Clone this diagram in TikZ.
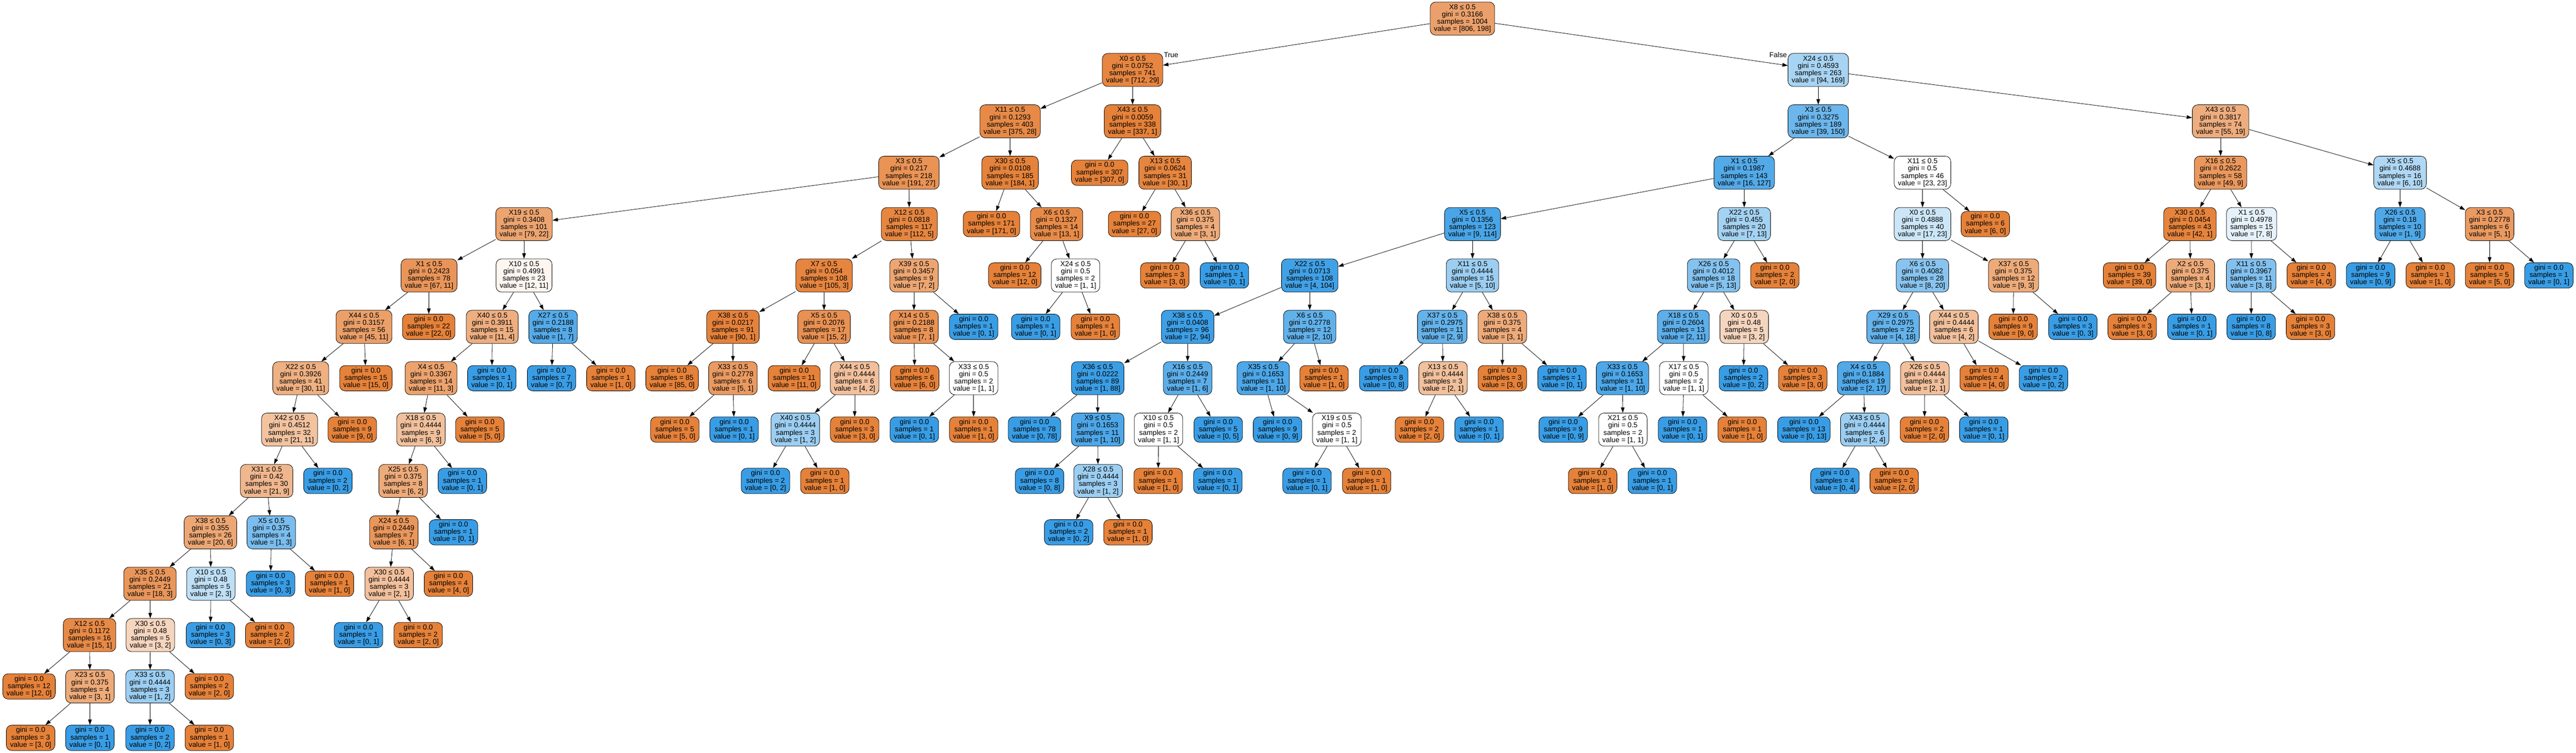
\documentclass[tikz,border=0pt]{standalone}
\usepackage{fontspec}
\setmainfont{Liberation Sans}
\usetikzlibrary{arrows.meta}
\definecolor{clszero}{RGB}{229,129,57}
\definecolor{clsone}{RGB}{57,157,229}
\newcommand{\mixfill}[2]{%
   \ifnum#1<#2\relax
      \pgfmathtruncatemacro{\fillpct}{round((#2-#1)/#2*100)}\def\fillbase{clsone}%
   \else
      \pgfmathtruncatemacro{\fillpct}{round((#1-#2)/#1*100)}\def\fillbase{clszero}%
   \fi}
\newcommand{\splitnode}[8]{%
   \mixfill{#7}{#8}%
   \node[decision, fill=\fillbase!\fillpct!white] (#1) at (#3,#4)
      {X#5 ≤ 0.5\\gini = #6\\samples = \the\numexpr#7+#8\relax\\value = [#7, #8]};
   \draw[branch] (#2) -- (#1);}
\newcommand{\leafnode}[6]{%
   \mixfill{#5}{#6}%
   \node[leaf, fill=\fillbase!\fillpct!white] (#1) at (#3,#4)
      {gini = 0.0\\samples = \the\numexpr#5+#6\relax\\value = [#5, #6]};
   \draw[branch] (#2) -- (#1);}
\begin{document}
\begin{tikzpicture}[x=0.02cm, y=-2.654cm,
   every node/.style={font=\fontsize{10.5}{10.7}\selectfont},
   decision/.style={draw, line width=0.6pt, rounded corners=0.28cm, align=center,
      inner xsep=0.19cm, inner ysep=1pt, minimum height=1.71cm},
   leaf/.style={decision, minimum height=1.31cm},
   branch/.style={line width=0.6pt, -{Triangle[length=0.28cm, width=0.19cm]}}]
   \useasboundingbox (0,-0.3617) rectangle (6646,14.288);
   \mixfill{806}{198}
   \node[decision, fill=\fillbase!\fillpct!white] (n0) at (3773,0)
      {X8 ≤ 0.5\\gini = 0.3166\\samples = 1004\\value = [806, 198]};
   \splitnode{n1}{n0}{2922}{1}{0}{0.0752}{712}{29}
   \splitnode{n2}{n1}{2606}{2}{11}{0.1293}{375}{28}
   \splitnode{n3}{n2}{2345}{3}{3}{0.217}{191}{27}
   \splitnode{n4}{n3}{1352}{4}{19}{0.3408}{79}{22}
   \splitnode{n5}{n4}{1107}{5}{1}{0.2423}{67}{11}
   \splitnode{n6}{n5}{939}{6}{44}{0.3157}{45}{11}
   \splitnode{n7}{n6}{776}{7}{22}{0.3926}{30}{11}
   \splitnode{n8}{n7}{747}{8}{42}{0.4512}{21}{11}
   \splitnode{n9}{n8}{688}{9}{31}{0.42}{21}{9}
   \splitnode{n10}{n9}{543}{10}{38}{0.355}{20}{6}
   \splitnode{n11}{n10}{387}{11}{35}{0.2449}{18}{3}
   \splitnode{n12}{n11}{231}{12}{12}{0.1172}{15}{1}
   \leafnode{n13}{n12}{75}{13}{12}{0}
   \splitnode{n14}{n12}{232}{13}{23}{0.375}{3}{1}
   \leafnode{n15}{n14}{79}{14}{3}{0}
   \leafnode{n16}{n14}{232}{14}{0}{1}
   \splitnode{n17}{n11}{388}{12}{30}{0.48}{3}{2}
   \splitnode{n18}{n17}{387}{13}{33}{0.4444}{1}{2}
   \leafnode{n19}{n18}{387}{14}{0}{2}
   \leafnode{n20}{n18}{540}{14}{1}{0}
   \leafnode{n21}{n17}{540}{13}{2}{0}
   \splitnode{n22}{n10}{544}{11}{10}{0.48}{2}{3}
   \leafnode{n23}{n22}{543}{12}{0}{3}
   \leafnode{n24}{n22}{696}{12}{2}{0}
   \splitnode{n25}{n9}{700}{10}{5}{0.375}{1}{3}
   \leafnode{n26}{n25}{698}{11}{0}{3}
   \leafnode{n27}{n25}{850}{11}{1}{0}
   \leafnode{n28}{n8}{846}{9}{0}{2}
   \leafnode{n29}{n7}{909}{8}{9}{0}
   \leafnode{n30}{n6}{944}{7}{15}{0}
   \leafnode{n31}{n5}{1106}{6}{22}{0}
   \splitnode{n32}{n4}{1352}{5}{10}{0.4991}{12}{11}
   \splitnode{n33}{n32}{1270}{6}{40}{0.3911}{11}{4}
   \splitnode{n34}{n33}{1112}{7}{4}{0.3367}{11}{3}
   \splitnode{n35}{n34}{1086}{8}{18}{0.4444}{6}{3}
   \splitnode{n36}{n35}{1040}{9}{25}{0.375}{6}{2}
   \splitnode{n37}{n36}{1016}{10}{24}{0.2449}{6}{1}
   \splitnode{n38}{n37}{1004}{11}{30}{0.4444}{2}{1}
   \leafnode{n39}{n38}{925}{12}{0}{1}
   \leafnode{n40}{n38}{1079}{12}{2}{0}
   \leafnode{n41}{n37}{1157}{11}{4}{0}
   \leafnode{n42}{n36}{1170}{10}{0}{1}
   \leafnode{n43}{n35}{1193}{9}{0}{1}
   \leafnode{n44}{n34}{1238}{8}{5}{0}
   \leafnode{n45}{n33}{1269}{7}{0}{1}
   \splitnode{n46}{n32}{1427}{6}{27}{0.2188}{1}{7}
   \leafnode{n47}{n46}{1423}{7}{0}{7}
   \leafnode{n48}{n46}{1576}{7}{1}{0}
   \splitnode{n49}{n3}{2346}{4}{12}{0.0818}{112}{5}
   \splitnode{n50}{n49}{2126}{5}{7}{0.054}{105}{3}
   \splitnode{n51}{n50}{1891}{6}{38}{0.0217}{90}{1}
   \leafnode{n52}{n51}{1734}{7}{85}{0}
   \splitnode{n53}{n51}{1891}{7}{33}{0.2778}{5}{1}
   \leafnode{n54}{n53}{1741}{8}{5}{0}
   \leafnode{n55}{n53}{1894}{8}{0}{1}
   \splitnode{n56}{n50}{2126}{6}{5}{0.2076}{15}{2}
   \leafnode{n57}{n56}{2049}{7}{11}{0}
   \splitnode{n58}{n56}{2205}{7}{44}{0.4444}{4}{2}
   \splitnode{n59}{n58}{2052}{8}{40}{0.4444}{1}{2}
   \leafnode{n60}{n59}{1975}{9}{0}{2}
   \leafnode{n61}{n59}{2128}{9}{1}{0}
   \leafnode{n62}{n58}{2205}{8}{3}{0}
   \splitnode{n63}{n49}{2358}{5}{39}{0.3457}{7}{2}
   \splitnode{n64}{n63}{2358}{6}{14}{0.2188}{7}{1}
   \leafnode{n65}{n64}{2360}{7}{6}{0}
   \splitnode{n66}{n64}{2512}{7}{33}{0.5}{1}{1}
   \leafnode{n67}{n66}{2359}{8}{0}{1}
   \leafnode{n68}{n66}{2512}{8}{1}{0}
   \leafnode{n69}{n63}{2512}{6}{0}{1}
   \splitnode{n70}{n2}{2606}{3}{30}{0.0108}{184}{1}
   \leafnode{n71}{n70}{2558}{4}{171}{0}
   \splitnode{n72}{n70}{2726}{4}{6}{0.1327}{13}{1}
   \leafnode{n73}{n72}{2618}{5}{12}{0}
   \splitnode{n74}{n72}{2775}{5}{24}{0.5}{1}{1}
   \leafnode{n75}{n74}{2672}{6}{0}{1}
   \leafnode{n76}{n74}{2826}{6}{1}{0}
   \splitnode{n77}{n1}{2922}{2}{43}{0.0059}{337}{1}
   \leafnode{n78}{n77}{2837}{3}{307}{0}
   \splitnode{n79}{n77}{3006}{3}{13}{0.0624}{30}{1}
   \leafnode{n80}{n79}{2927}{4}{27}{0}
   \splitnode{n81}{n79}{3084}{4}{36}{0.375}{3}{1}
   \leafnode{n82}{n81}{3005}{5}{3}{0}
   \leafnode{n83}{n81}{3159}{5}{0}{1}
   \splitnode{n84}{n0}{4691}{1}{24}{0.4593}{94}{169}
   \splitnode{n85}{n84}{4691}{2}{3}{0.3275}{39}{150}
   \splitnode{n86}{n85}{4500}{3}{1}{0.1987}{16}{127}
   \splitnode{n87}{n86}{3799}{4}{5}{0.1356}{9}{114}
   \splitnode{n88}{n87}{3379}{5}{22}{0.0713}{4}{104}
   \splitnode{n89}{n88}{3064}{6}{38}{0.0408}{2}{94}
   \splitnode{n90}{n89}{2832}{7}{36}{0.0222}{1}{88}
   \leafnode{n91}{n90}{2669}{8}{0}{78}
   \splitnode{n92}{n90}{2832}{8}{9}{0.1653}{1}{10}
   \leafnode{n93}{n92}{2682}{9}{0}{8}
   \splitnode{n94}{n92}{2833}{9}{28}{0.4444}{1}{2}
   \leafnode{n95}{n94}{2757}{10}{0}{2}
   \leafnode{n96}{n94}{2910}{10}{1}{0}
   \splitnode{n97}{n89}{3064}{7}{16}{0.2449}{1}{6}
   \splitnode{n98}{n97}{2989}{8}{10}{0.5}{1}{1}
   \leafnode{n99}{n98}{2988}{9}{1}{0}
   \leafnode{n100}{n98}{3142}{9}{0}{1}
   \leafnode{n101}{n97}{3143}{8}{0}{5}
   \splitnode{n102}{n88}{3379}{6}{6}{0.2778}{2}{10}
   \splitnode{n103}{n102}{3259}{7}{35}{0.1653}{1}{10}
   \leafnode{n104}{n103}{3296}{8}{0}{9}
   \splitnode{n105}{n103}{3449}{8}{19}{0.5}{1}{1}
   \leafnode{n106}{n105}{3372}{9}{0}{1}
   \leafnode{n107}{n105}{3526}{9}{1}{0}
   \leafnode{n108}{n102}{3416}{7}{1}{0}
   \splitnode{n109}{n87}{3799}{5}{11}{0.4444}{5}{10}
   \splitnode{n110}{n109}{3721}{6}{37}{0.2975}{2}{9}
   \leafnode{n111}{n110}{3570}{7}{0}{8}
   \splitnode{n112}{n110}{3723}{7}{13}{0.4444}{2}{1}
   \leafnode{n113}{n112}{3662}{8}{2}{0}
   \leafnode{n114}{n112}{3816}{8}{0}{1}
   \splitnode{n115}{n109}{3876}{6}{38}{0.375}{3}{1}
   \leafnode{n116}{n115}{3876}{7}{3}{0}
   \leafnode{n117}{n115}{4030}{7}{0}{1}
   \splitnode{n118}{n86}{4500}{4}{22}{0.455}{7}{13}
   \splitnode{n119}{n118}{4421}{5}{26}{0.4012}{5}{13}
   \splitnode{n120}{n119}{4343}{6}{18}{0.2604}{2}{11}
   \splitnode{n121}{n120}{4186}{7}{33}{0.1653}{1}{10}
   \leafnode{n122}{n121}{4033}{8}{0}{9}
   \splitnode{n123}{n121}{4187}{8}{21}{0.5}{1}{1}
   \leafnode{n124}{n123}{4109}{9}{1}{0}
   \leafnode{n125}{n123}{4263}{9}{0}{1}
   \splitnode{n126}{n120}{4344}{7}{17}{0.5}{1}{1}
   \leafnode{n127}{n126}{4341}{8}{0}{1}
   \leafnode{n128}{n126}{4495}{8}{1}{0}
   \splitnode{n129}{n119}{4500}{6}{0}{0.48}{3}{2}
   \leafnode{n130}{n129}{4498}{7}{0}{2}
   \leafnode{n131}{n129}{4651}{7}{3}{0}
   \leafnode{n132}{n118}{4579}{5}{2}{0}
   \splitnode{n133}{n85}{4960}{3}{11}{0.5}{23}{23}
   \splitnode{n134}{n133}{4960}{4}{0}{0.4888}{17}{23}
   \splitnode{n135}{n134}{4960}{5}{6}{0.4082}{8}{20}
   \splitnode{n136}{n135}{4884}{6}{29}{0.2975}{4}{18}
   \splitnode{n137}{n136}{4808}{7}{4}{0.1884}{2}{17}
   \leafnode{n138}{n137}{4654}{8}{0}{13}
   \splitnode{n139}{n137}{4811}{8}{43}{0.4444}{2}{4}
   \leafnode{n140}{n139}{4734}{9}{0}{4}
   \leafnode{n141}{n139}{4887}{9}{2}{0}
   \splitnode{n142}{n136}{4966}{7}{26}{0.4444}{2}{1}
   \leafnode{n143}{n142}{4965}{8}{2}{0}
   \leafnode{n144}{n142}{5118}{8}{0}{1}
   \splitnode{n145}{n135}{5041}{6}{44}{0.4444}{4}{2}
   \leafnode{n146}{n145}{5119}{7}{4}{0}
   \leafnode{n147}{n145}{5272}{7}{0}{2}
   \splitnode{n148}{n134}{5195}{5}{37}{0.375}{9}{3}
   \leafnode{n149}{n148}{5194}{6}{9}{0}
   \leafnode{n150}{n148}{5348}{6}{0}{3}
   \leafnode{n151}{n133}{5122}{4}{6}{0}
   \splitnode{n152}{n84}{5729}{2}{43}{0.3817}{55}{19}
   \splitnode{n153}{n152}{5729}{3}{16}{0.2622}{49}{9}
   \splitnode{n154}{n153}{5650}{4}{30}{0.0454}{42}{1}
   \leafnode{n155}{n154}{5494}{5}{39}{0}
   \splitnode{n156}{n154}{5651}{5}{2}{0.375}{3}{1}
   \leafnode{n157}{n156}{5501}{6}{3}{0}
   \leafnode{n158}{n156}{5655}{6}{0}{1}
   \splitnode{n159}{n153}{5809}{4}{1}{0.4978}{7}{8}
   \splitnode{n160}{n159}{5808}{5}{11}{0.3967}{3}{8}
   \leafnode{n161}{n160}{5808}{6}{0}{8}
   \leafnode{n162}{n160}{5961}{6}{3}{0}
   \leafnode{n163}{n159}{5963}{5}{4}{0}
   \splitnode{n164}{n152}{6192}{3}{5}{0.4688}{6}{10}
   \splitnode{n165}{n164}{6192}{4}{26}{0.18}{1}{9}
   \leafnode{n166}{n165}{6116}{5}{0}{9}
   \leafnode{n167}{n165}{6270}{5}{1}{0}
   \splitnode{n168}{n164}{6423}{4}{3}{0.2778}{5}{1}
   \leafnode{n169}{n168}{6423}{5}{5}{0}
   \leafnode{n170}{n168}{6576}{5}{0}{1}
   \node[anchor=west, inner sep=0pt] (ltrue) at ([xshift=0.04cm, yshift=-0.08cm]n1.north east) {True};
   \node[anchor=east, inner sep=0pt] (lfalse) at ([xshift=-0.04cm, yshift=-0.08cm]n84.north west) {False};
\end{tikzpicture}
\end{document}
